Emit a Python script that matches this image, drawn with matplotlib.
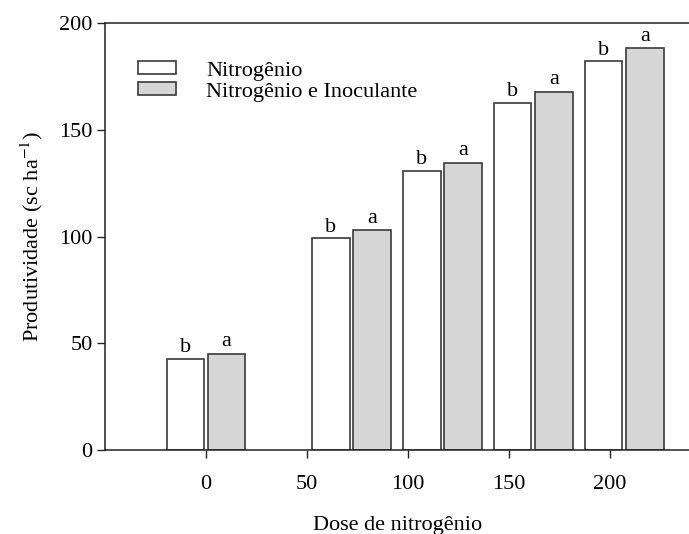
import numpy as np
import matplotlib
matplotlib.use("Agg")
import matplotlib.pyplot as plt

plt.rcParams['font.family'] = ['Liberation Serif', 'DejaVu Serif']
plt.rcParams['mathtext.fontset'] = 'stix'

# data
group_x = [0, 72, 117, 162, 207]           # centre of each bar pair on the dose axis
nitrogen = [42.8, 99.2, 130.7, 162.7, 182.2]
nitrogen_inoc = [45.1, 103.0, 134.7, 168.1, 188.4]
letters_n = ['b', 'b', 'b', 'b', 'b']
letters_ni = ['a', 'a', 'a', 'a', 'a']
xticks = [0, 50, 100, 150, 200]
yticks = [0, 50, 100, 150, 200]

fs = 16

fig = plt.figure(figsize=(6.89, 5.34), dpi=100)
ax = fig.add_axes([0.1524, 0.1573, 0.8505, 0.7987])

x = np.array(group_x, dtype=float)
w = 18.5
off = 10.2
edge = '#3a3a3a'
ax.bar(x - off, nitrogen, w, color='white', edgecolor=edge, linewidth=1.2,
       label='Nitrogênio')
ax.bar(x + off, nitrogen_inoc, w, color='#d6d6d6', edgecolor=edge, linewidth=1.2,
       label='Nitrogênio e Inoculante')

# significance letters above each bar
for xi, h, t in zip(x - off, nitrogen, letters_n):
    ax.text(xi, h + 3.2, t, ha='center', va='baseline', fontsize=fs)
for xi, h, t in zip(x + off, nitrogen_inoc, letters_ni):
    ax.text(xi, h + 3.6, t, ha='center', va='baseline', fontsize=fs)

ax.set_xlim(-50, 240)
ax.set_ylim(0, 200)
ax.set_xticks(xticks)
ax.set_yticks(yticks)
ax.tick_params(direction='out', length=6, width=1, labelsize=fs, color='#222222')
ax.tick_params(axis='x', pad=12)
ax.tick_params(axis='y', pad=3)
for s in ['left', 'bottom', 'top']:
    ax.spines[s].set_linewidth(1.1)
    ax.spines[s].set_color('#222222')
ax.spines['right'].set_visible(False)

ax.set_xlabel('Dose de nitrogênio', fontsize=fs, labelpad=16)
ax.set_ylabel('Produtividade (sc ha$^{-1}$)', fontsize=fs, labelpad=10)

ax.legend(loc='upper left', bbox_to_anchor=(0.0563, 0.911), frameon=False,
          fontsize=fs, handlelength=1.71, handleheight=0.52, handletextpad=1.35,
          labelspacing=0.07, borderpad=0, borderaxespad=0)

fig.savefig('out.png', dpi=100)
